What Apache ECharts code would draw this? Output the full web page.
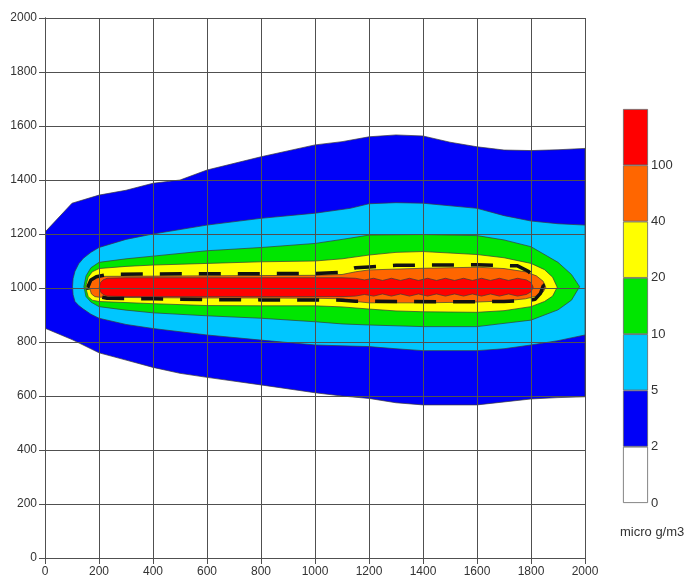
<!DOCTYPE html>
<html>
<head>
<meta charset="utf-8">
<script src="https://cdn.jsdelivr.net/npm/echarts@6/dist/echarts.min.js"></script>
<style>
html,body{margin:0;padding:0;background:#fff;}
#chart{width:690px;height:579px;}
</style>
</head>
<body>
<div id="chart"></div>
<script>
// ---- Data ----
const legendLabels = ['0', '2', '5', '10', '20', '40', '100'];
const bandColors = ['#ffffff', '#0000f8', '#00c6ff', '#00e600', '#ffff00', '#ff6600', '#ff0000'];
const unitLabel = 'micro g/m3';
const axisTicks = [0, 200, 400, 600, 800, 1000, 1200, 1400, 1600, 1800, 2000];

// contour >= 2
const c2X     = [0, 100, 200, 300, 400, 500, 600, 800, 1000, 1100, 1200, 1300, 1400, 1500, 1600, 1700, 1800, 1900, 2000];
const c2Upper = [1207, 1314, 1344, 1362, 1388, 1400, 1437, 1486, 1530, 1542, 1560, 1567, 1563, 1540, 1523, 1511, 1509, 1512, 1517];
const c2Lower = [851, 809, 760, 733, 706, 684, 669, 641, 612, 600, 591, 575, 567, 567, 567, 578, 589, 594, 597];

// contour >= 5
const c5X     = [102, 104, 111, 125, 142, 170, 200, 300, 400, 600, 800, 1000, 1130, 1200, 1300, 1400, 1600, 1700, 1800, 1900, 2000];
const c5Upper = [1005, 1035, 1062, 1090, 1110, 1132, 1150, 1180, 1200, 1233, 1258, 1277, 1295, 1312, 1316, 1314, 1295, 1268, 1248, 1238, 1233];
const c5Lower = [1005, 975, 950, 935, 922, 903, 888, 865, 850, 826, 807, 789, 785, 783, 775, 768, 768, 775, 789, 805, 826];

// contour >= 10
const c10X     = [144, 152, 170, 200, 300, 400, 600, 800, 1000, 1100, 1200, 1400, 1600, 1700, 1800, 1900, 1950, 1980];
const c10Upper = [1005, 1045, 1075, 1095, 1108, 1118, 1138, 1150, 1165, 1180, 1196, 1198, 1194, 1178, 1153, 1095, 1050, 1005];
const c10Lower = [1005, 968, 948, 931, 918, 908, 897, 888, 875, 867, 863, 857, 857, 869, 881, 919, 955, 1005];

// contour >= 20
const c20X     = [150, 160, 175, 200, 300, 400, 600, 800, 1000, 1100, 1200, 1300, 1400, 1600, 1700, 1800, 1850, 1880, 1897];
const c20Upper = [1003, 1040, 1060, 1072, 1080, 1085, 1091, 1097, 1100, 1108, 1122, 1132, 1135, 1124, 1112, 1091, 1068, 1040, 1003];
const c20Lower = [1003, 968, 955, 950, 946, 942, 935, 934, 934, 930, 922, 915, 912, 910, 916, 931, 950, 970, 1003];

// contour >= 40
const c40X     = [164, 172, 185, 200, 400, 600, 800, 1000, 1100, 1150, 1200, 1400, 1600, 1700, 1780, 1820, 1845, 1855];
const c40Upper = [1003, 1030, 1040, 1043, 1044, 1045, 1046, 1047, 1050, 1060, 1067, 1073, 1077, 1072, 1060, 1045, 1025, 1003];
const c40Lower = [1003, 978, 968, 966, 964, 963, 963, 962, 960, 950, 945, 945, 948, 952, 960, 970, 985, 1003];

// contour >= 100
const c100X     = [201, 205, 215, 230, 300, 500, 700, 900, 1100, 1150, 1183, 1217, 1250, 1283, 1317, 1350, 1383, 1417, 1450, 1483, 1517, 1550, 1583, 1617, 1650, 1683, 1717, 1750, 1783, 1800, 1808];
const c100Upper = [1003, 1020, 1030, 1036, 1038, 1038, 1038, 1038, 1038, 1036, 1030, 1036, 1028, 1036, 1028, 1036, 1028, 1036, 1028, 1036, 1028, 1036, 1028, 1036, 1028, 1036, 1028, 1036, 1030, 1020, 1003];
const c100Lower = [1003, 986, 976, 970, 968, 968, 968, 968, 968, 970, 976, 970, 978, 970, 978, 970, 978, 970, 978, 970, 978, 970, 978, 970, 978, 970, 978, 970, 976, 986, 1003];

// dashed contour line (closed)
const dashX = [158, 170, 190, 240, 400, 600, 800, 1000, 1100, 1150, 1200, 1300, 1400, 1600, 1750, 1790, 1820, 1846, 1835, 1815, 1800, 1700, 1500, 1300, 1150, 1100, 1000, 800, 600, 400, 230, 180, 160, 158];
const dashY = [1003, 1030, 1042, 1051, 1052, 1053, 1053, 1054, 1058, 1075, 1078, 1084, 1085, 1086, 1082, 1062, 1035, 1010, 980, 958, 955, 950, 949, 950, 951, 955, 956, 956, 957, 960, 962, 972, 990, 1003];

// ---- Chart ----
const chart = echarts.init(document.getElementById('chart'));

const bands = [
  {x: c2X, up: c2Upper, lo: c2Lower, color: bandColors[1]},
  {x: c5X, up: c5Upper, lo: c5Lower, color: bandColors[2]},
  {x: c10X, up: c10Upper, lo: c10Lower, color: bandColors[3]},
  {x: c20X, up: c20Upper, lo: c20Lower, color: bandColors[4]},
  {x: c40X, up: c40Upper, lo: c40Lower, color: bandColors[5]},
  {x: c100X, up: c100Upper, lo: c100Lower, color: bandColors[6]}
];

const bandSeries = bands.map(function (b, k) {
  return {
    type: 'custom',
    xAxisIndex: 0,
    yAxisIndex: 0,
    z: 2 + k * 0.01,
    silent: true,
    clip: true,
    data: b.x.map(function (x, i) { return [x, b.up[i], b.lo[i]]; }),
    encode: {x: 0, y: [1, 2]},
    renderItem: function (params, api) {
      if (params.dataIndex !== 0) return null;
      const pts = [];
      for (let i = 0; i < b.x.length; i++) pts.push(api.coord([b.x[i], b.up[i]]));
      for (let i = b.x.length - 1; i >= 0; i--) pts.push(api.coord([b.x[i], b.lo[i]]));
      return {
        type: 'polygon',
        shape: {points: pts},
        style: {fill: b.color, stroke: '#3a3a3a', lineWidth: 0.7}
      };
    }
  };
});

const dashSeries = {
  type: 'line',
  xAxisIndex: 0,
  yAxisIndex: 0,
  z: 4,
  silent: true,
  showSymbol: false,
  symbol: 'none',
  data: dashX.map(function (x, i) { return [x, dashY[i]]; }),
  lineStyle: {color: '#111', width: 3.5, type: [22, 17]}
};

const legendSeries = bandColors.map(function (c, i) {
  return {
    type: 'bar',
    xAxisIndex: 2,
    yAxisIndex: 2,
    stack: 'legend',
    silent: true,
    barWidth: '100%',
    data: [1],
    itemStyle: {color: c, borderColor: '#666', borderWidth: 0.8}
  };
});

const gridLine = {color: '#505050', width: 1};
const textColor = '#333';
const fontFamily = '"Liberation Sans", Arial, sans-serif';
const plainNum = function (v) { return String(v); };

chart.setOption({
  animation: false,
  backgroundColor: '#fff',
  textStyle: {fontFamily: fontFamily},
  grid: [
    {left: 45, right: 105, top: 18, bottom: 21, containLabel: false},
    {left: 623, top: 109, width: 25, height: 394}
  ],
  xAxis: [
    {
      type: 'value', gridIndex: 0, min: axisTicks[0], max: axisTicks[axisTicks.length - 1], interval: 200,
      position: 'bottom', z: 10,
      axisLine: {show: true, lineStyle: gridLine},
      axisTick: {show: true, length: 6, lineStyle: gridLine},
      axisLabel: {color: textColor, fontSize: 12, margin: 8, fontFamily: fontFamily, formatter: plainNum},
      splitLine: {show: true, lineStyle: gridLine}
    },
    {
      type: 'value', gridIndex: 0, min: axisTicks[0], max: axisTicks[axisTicks.length - 1], interval: 200,
      position: 'top', z: 10,
      axisLine: {show: true, lineStyle: gridLine},
      axisTick: {show: true, length: 6, lineStyle: gridLine},
      axisLabel: {show: false},
      splitLine: {show: false}
    },
    {
      type: 'category', gridIndex: 1, data: [''],
      show: false
    }
  ],
  yAxis: [
    {
      type: 'value', gridIndex: 0, min: axisTicks[0], max: axisTicks[axisTicks.length - 1], interval: 200,
      position: 'left', z: 10,
      axisLine: {show: true, lineStyle: gridLine},
      axisTick: {show: true, length: 6, lineStyle: gridLine},
      axisLabel: {color: textColor, fontSize: 12, margin: 8, fontFamily: fontFamily, formatter: plainNum},
      splitLine: {show: true, lineStyle: gridLine}
    },
    {
      type: 'value', gridIndex: 0, min: axisTicks[0], max: axisTicks[axisTicks.length - 1], interval: 200,
      position: 'right', z: 10,
      axisLine: {show: true, lineStyle: gridLine},
      axisTick: {show: true, length: 6, lineStyle: gridLine},
      axisLabel: {show: false},
      splitLine: {show: false}
    },
    {
      type: 'value', gridIndex: 1, min: 0, max: legendLabels.length, interval: 1,
      position: 'right',
      axisLine: {show: false},
      axisTick: {show: false},
      splitLine: {show: false},
      axisLabel: {
        color: textColor, fontSize: 13, margin: 3, fontFamily: fontFamily,
        formatter: function (v) { return legendLabels[v] !== undefined ? legendLabels[v] : ''; }
      }
    }
  ],
  graphic: [
    {
      type: 'text', left: 620, top: 526,
      style: {text: unitLabel, fill: textColor, font: '13px "Liberation Sans", Arial, sans-serif'}
    }
  ],
  series: bandSeries.concat([dashSeries]).concat(legendSeries)
});
</script>
</body>
</html>
